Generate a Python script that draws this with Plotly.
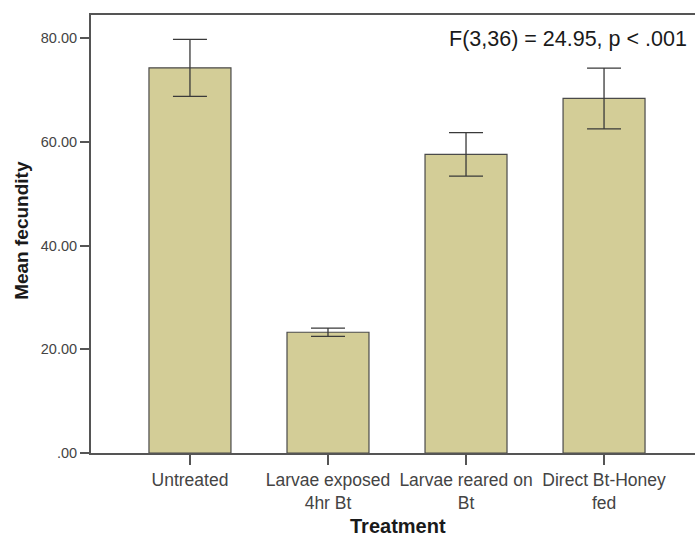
import plotly.graph_objects as go

# Group means and error-bar bounds (mean fecundity per treatment)
categories = ["Untreated", "Larvae exposed 4hr Bt", "Larvae reared on Bt", "Direct Bt-Honey fed"]
tick_labels = ["Untreated", "Larvae exposed<br>4hr Bt", "Larvae reared on<br>Bt", "Direct Bt-Honey<br>fed"]
mean_fecundity = [74.3, 23.3, 57.6, 68.4]
error_half = [5.5, 0.8, 4.2, 5.85]
y_ticks = [0, 20, 40, 60, 80]
y_tick_labels = [".00", "20.00", "40.00", "60.00", "80.00"]
stat_text = "F(3,36) = 24.95, p < .001"

FONT = "Liberation Sans, Arial, sans-serif"
AXIS_COLOR = "#555555"

fig = go.Figure(
    go.Bar(
        x=categories,
        y=mean_fecundity,
        width=0.594,
        marker=dict(color="#d3cd97", line=dict(color="#4a4a4a", width=1.2)),
        error_y=dict(type="data", array=error_half, visible=True,
                     color="#3a3a3a", thickness=1.3, width=17),
    )
)

fig.update_layout(
    width=695, height=538,
    margin=dict(l=91, r=0, t=15, b=85),
    paper_bgcolor="white", plot_bgcolor="white",
    showlegend=False,
    font=dict(family=FONT, color="#444444"),
    xaxis=dict(
        type="category",
        range=[-0.717, 3.659],
        tickvals=categories, ticktext=tick_labels,
        tickfont=dict(size=17.5, color="#444444"),
        showline=True, mirror=True, linecolor=AXIS_COLOR, linewidth=2,
        ticks="outside", ticklen=10, tickwidth=1.5, tickcolor=AXIS_COLOR,
        showgrid=False,
    ),
    yaxis=dict(
        range=[0, 84.5],
        tickvals=y_ticks, ticktext=y_tick_labels,
        tickfont=dict(size=14.5, color="#444444"),
        showline=True, linecolor=AXIS_COLOR, linewidth=2,
        ticks="outside", ticklen=9, tickwidth=1.5, tickcolor=AXIS_COLOR,
        showgrid=False, zeroline=False,
    ),
    annotations=[
        dict(text=stat_text, xref="paper", yref="paper", x=0.990, y=(453.3 - 39) / 438.3,
             xanchor="right", yanchor="middle", showarrow=False,
             font=dict(size=21.5, color="#1a1a1a", family=FONT)),
        dict(text="<b>Treatment</b>", xref="paper", yref="paper", x=(398 - 91) / 604,
             y=(453.3 - 539.5) / 438.3, xanchor="center", yanchor="bottom", showarrow=False,
             font=dict(size=20, color="#1a1a1a", family=FONT)),
        dict(text="<b>Mean fecundity</b>", xref="paper", yref="paper", x=(22 - 91) / 604,
             y=(453.3 - 231) / 438.3, xanchor="center", yanchor="middle", textangle=-90,
             showarrow=False, font=dict(size=19, color="#1a1a1a", family=FONT)),
    ],
)

fig.write_html("out.html")
